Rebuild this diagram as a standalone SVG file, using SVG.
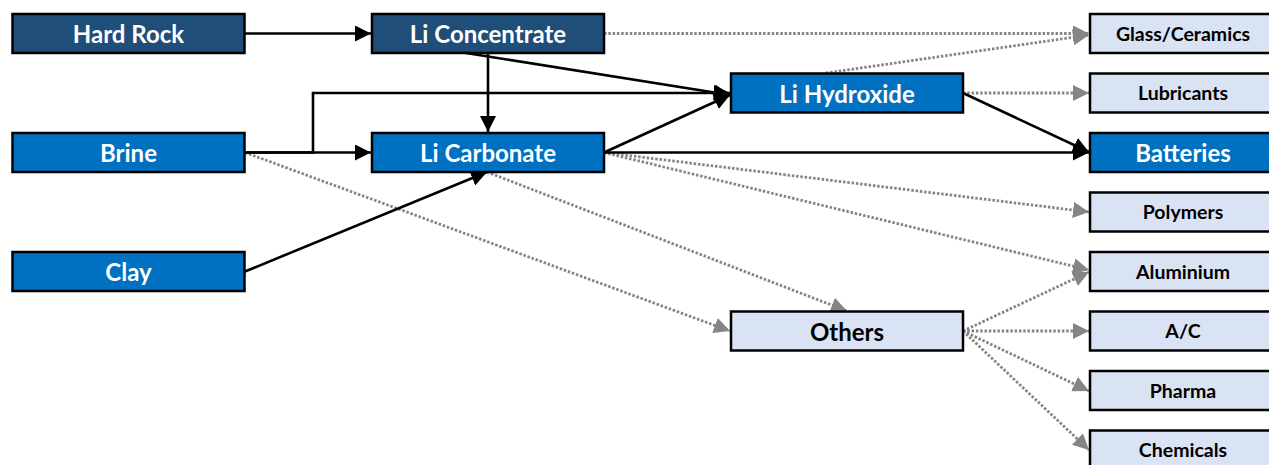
<svg xmlns="http://www.w3.org/2000/svg" width="1269" height="465" viewBox="0 0 1269 465">
<style>
.box{stroke:#000;stroke-width:2.5}
.dk{fill:#1F4E79}
.md{fill:#0070C0}
.lt{fill:#DAE3F3}
.t{font-family:Lato,"Liberation Sans",Arial,sans-serif;font-weight:700;text-anchor:middle}
.big{font-size:24px}
.sm{font-size:19.5px}
.w{fill:#fff}
.k{fill:#000}
.solid{fill:none;stroke:#000;stroke-width:2.6;marker-end:url(#ab)}
.dot{fill:none;stroke:#858585;stroke-width:2.8;stroke-dasharray:2.5 1.8;marker-end:url(#ag)}
</style>
<defs>
<marker id="ab" markerUnits="userSpaceOnUse" markerWidth="17" markerHeight="16" refX="16" refY="8" orient="auto"><path d="M0,0 L16,8 L0,16 z" fill="#000"/></marker>
<marker id="ag" markerUnits="userSpaceOnUse" markerWidth="17" markerHeight="16" refX="16" refY="8" orient="auto"><path d="M0,0 L16,8 L0,16 z" fill="#858585"/></marker>
</defs>
<rect width="1269" height="465" fill="#fff"/>
<g id="connectors">
<path class="dot" d="M604,33.5 H1089"/>
<path class="dot" d="M826,73 L1089,35"/>
<path class="dot" d="M963,93 H1089"/>
<path class="dot" d="M604,152.5 L1089,212"/>
<path class="dot" d="M604,152.5 L1089,270"/>
<path class="dot" d="M487,172 L847,311"/>
<path class="dot" d="M245,152.5 L730,331"/>
<path class="dot" d="M963,331 L1089,272"/>
<path class="dot" d="M963,331 H1089"/>
<path class="dot" d="M963,331 L1089,391"/>
<path class="dot" d="M963,331 L1089,450"/>
<path class="solid" d="M245,33.5 H371"/>
<path class="solid" d="M488,53 V132"/>
<path class="solid" d="M466,53 L730,95"/>
<path class="solid" d="M245,152.5 H313 V93 H730"/>
<path class="solid" d="M245,152.5 H371"/>
<path class="solid" d="M245,271.5 L487,172"/>
<path class="solid" d="M604,152.5 L730,95"/>
<path class="solid" d="M604,152.5 H1089"/>
<path class="solid" d="M963,93 L1089,152"/>
</g>
<g id="hard-rock"><rect class="box dk" x="12.5" y="14" width="232" height="39"/><text class="t big w" x="128.5" y="43">Hard Rock</text></g>
<g id="brine"><rect class="box md" x="12.5" y="133" width="232" height="39"/><text class="t big w" x="128.5" y="162">Brine</text></g>
<g id="clay"><rect class="box md" x="12.5" y="252" width="232" height="39"/><text class="t big w" x="128.5" y="281">Clay</text></g>
<g id="li-concentrate"><rect class="box dk" x="372" y="14" width="232" height="39"/><text class="t big w" x="488" y="43">Li Concentrate</text></g>
<g id="li-carbonate"><rect class="box md" x="372" y="133" width="232" height="39"/><text class="t big w" x="488" y="162">Li Carbonate</text></g>
<g id="li-hydroxide"><rect class="box md" x="731" y="73.5" width="232" height="39"/><text class="t big w" x="847" y="102.5">Li Hydroxide</text></g>
<g id="others"><rect class="box lt" x="731" y="311.5" width="232" height="39"/><text class="t big k" x="847" y="340.5">Others</text></g>
<g id="glass-ceramics"><rect class="box lt" x="1090" y="14" width="186" height="39"/><text class="t sm k" x="1183" y="40.5">Glass/Ceramics</text></g>
<g id="lubricants"><rect class="box lt" x="1090" y="73.5" width="186" height="39"/><text class="t sm k" x="1183" y="100">Lubricants</text></g>
<g id="batteries"><rect class="box md" x="1090" y="133" width="186" height="39"/><text class="t big w" x="1183" y="162">Batteries</text></g>
<g id="polymers"><rect class="box lt" x="1090" y="192.5" width="186" height="39"/><text class="t sm k" x="1183" y="219">Polymers</text></g>
<g id="aluminium"><rect class="box lt" x="1090" y="252" width="186" height="39"/><text class="t sm k" x="1183" y="278.5">Aluminium</text></g>
<g id="ac"><rect class="box lt" x="1090" y="311.5" width="186" height="39"/><text class="t sm k" x="1183" y="338">A/C</text></g>
<g id="pharma"><rect class="box lt" x="1090" y="371" width="186" height="39"/><text class="t sm k" x="1183" y="397.5">Pharma</text></g>
<g id="chemicals"><rect class="box lt" x="1090" y="430.5" width="186" height="39"/><text class="t sm k" x="1183" y="457">Chemicals</text></g>
</svg>
